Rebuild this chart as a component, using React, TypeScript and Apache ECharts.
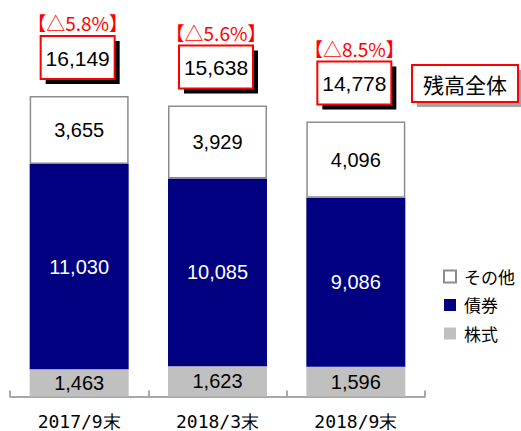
import React, { useEffect, useRef } from "react";
import * as echarts from "echarts";

const categories = ["2017/9末", "2018/3末", "2018/9末"];
const stocks = [1463, 1623, 1596];
const bonds = [11030, 10085, 9086];
const others = [3655, 3929, 4096];
const totals = [16149, 15638, 14778];
const changes = ["【△5.8%】", "【△5.6%】", "【△8.5%】"];
const seriesNames = ["その他", "債券", "株式"];
const totalTitle = "残高全体";

const fmt = (v: number) => v.toLocaleString("en-US");
const NUM_FONT = "Liberation Sans";
const JP_FONT = "Noto Sans CJK JP";

export default function App() {
  const ref = useRef<HTMLDivElement>(null);
  useEffect(() => {
    if (!ref.current) return;
    const chart = echarts.init(ref.current, undefined, { renderer: "svg" });
    const valLabel = (color: string) => ({
      show: true,
      position: "inside" as const,
      color,
      fontSize: 20,
      fontFamily: NUM_FONT,
      formatter: (p: any) => fmt(p.value),
    });
    chart.setOption({
      animation: false,
      backgroundColor: "#ffffff",
      grid: { left: 10, right: 96, top: 24.3, bottom: 34.5 },
      xAxis: {
        type: "category",
        data: categories,
        axisLine: { lineStyle: { color: "#8c8c8c", width: 1.5 } },
        axisTick: { show: true, inside: true, length: 6, lineStyle: { color: "#8c8c8c", width: 1.5 } },
        axisLabel: { color: "#000", fontSize: 18, fontFamily: "DejaVu Sans Mono", margin: 16 },
      },
      yAxis: { type: "value", min: 0, max: 20000, show: false, splitLine: { show: false } },
      legend: {
        data: seriesNames,
        orient: "vertical",
        left: 438,
        top: 263,
        itemWidth: 12,
        itemHeight: 12,
        itemGap: 11.5,
        icon: "rect",
        textStyle: { color: "#000", fontSize: 17, fontFamily: JP_FONT, padding: [0, 0, 0, 3] },
      },
      series: [
        {
          name: "株式",
          type: "bar",
          stack: "t",
          barWidth: 99,
          data: stocks,
          itemStyle: { color: "#c0c0c0" },
          label: valLabel("#000"),
        },
        {
          name: "債券",
          type: "bar",
          stack: "t",
          barWidth: 99,
          data: bonds,
          itemStyle: { color: "#000080" },
          label: valLabel("#fff"),
        },
        {
          name: "その他",
          type: "bar",
          stack: "t",
          barWidth: 99,
          data: others,
          itemStyle: { color: "#fff", borderColor: "#8c8c8c", borderWidth: 1.5 },
          label: valLabel("#000"),
        },
      ],
    });

    const boxW = 74;
    const boxH = 43;
    const annotations: any[] = totals.map((t, i) => {
      const [px, py] = chart.convertToPixel({ gridIndex: 0 }, [i, t]) as number[];
      const left = px - 1.5 - boxW / 2;
      const top = py - 17 - boxH;
      return {
        type: "group",
        x: left,
        y: top,
        children: [
          { type: "rect", shape: { x: 5, y: 5, width: boxW, height: boxH }, style: { fill: "#000" } },
          { type: "rect", shape: { x: 0, y: 0, width: boxW, height: boxH }, style: { fill: "#fff", stroke: "#ff0000", lineWidth: 2 } },
          {
            type: "text",
            x: boxW / 2,
            y: boxH / 2 + 1,
            style: { text: fmt(t), fill: "#000", fontSize: 21, fontFamily: NUM_FONT, align: "center", verticalAlign: "middle" },
          },
          {
            type: "text",
            x: boxW / 2,
            y: -13,
            style: { text: changes[i], fill: "#ff0000", fontSize: 19, fontFamily: JP_FONT, align: "center", verticalAlign: "middle" },
          },
        ],
      };
    });
    annotations.push({
      type: "group",
      x: 412,
      y: 65,
      children: [
        { type: "rect", shape: { x: 5, y: 5, width: 106, height: 37 }, style: { fill: "#a6a6a6" } },
        { type: "rect", shape: { x: 0, y: 0, width: 106, height: 37 }, style: { fill: "#fff", stroke: "#ff0000", lineWidth: 2 } },
        {
          type: "text",
          x: 53,
          y: 19,
          style: { text: totalTitle, fill: "#000", fontSize: 21, fontFamily: JP_FONT, align: "center", verticalAlign: "middle" },
        },
      ],
    });
    chart.setOption({ graphic: annotations });
    return () => chart.dispose();
  }, []);
  return <div ref={ref} style={{ position: "fixed", left: 0, top: 0, width: 521, height: 431 }} />;
}
